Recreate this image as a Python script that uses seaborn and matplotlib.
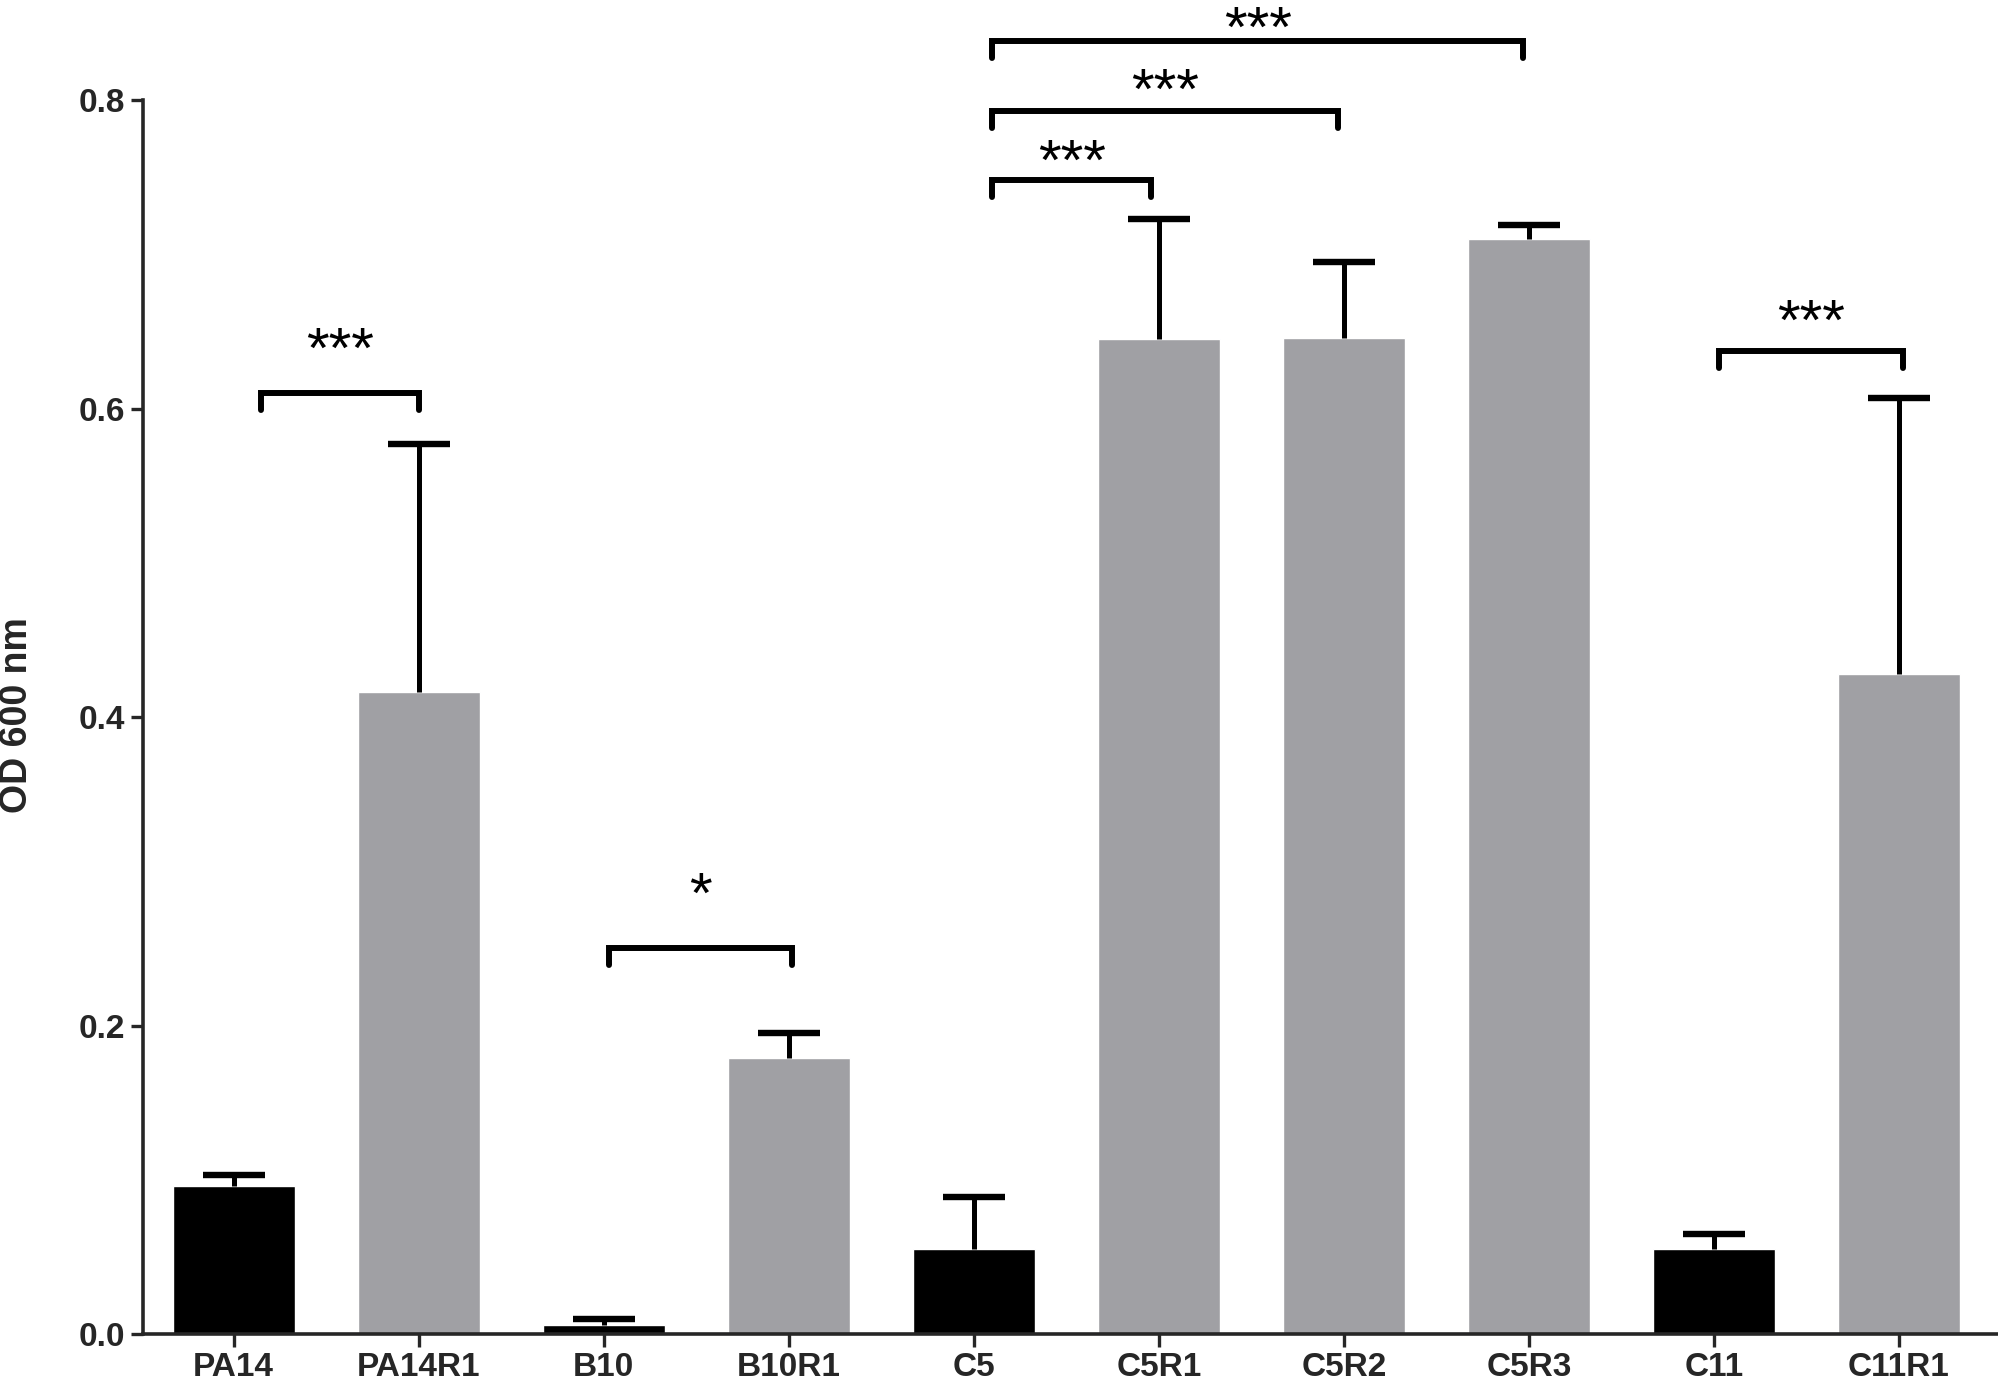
import matplotlib
matplotlib.use("Agg")
import matplotlib.pyplot as plt
import seaborn as sns
import pandas as pd
import numpy as np

# values
samples = ['PA14', 'PA14R1', 'B10', 'B10R1', 'C5', 'C5R1', 'C5R2', 'C5R3', 'C11', 'C11R1']
od_mean = [0.096, 0.416, 0.006, 0.179, 0.055, 0.645, 0.646, 0.710, 0.055, 0.428]
od_sd = [0.007, 0.161, 0.004, 0.016, 0.034, 0.078, 0.049, 0.009, 0.010, 0.179]
bar_colors = ['#000000', '#A0A0A4', '#000000', '#A0A0A4', '#000000',
              '#A0A0A4', '#A0A0A4', '#A0A0A4', '#000000', '#A0A0A4']

# significance brackets: (x left, x right, bracket height, stars)
sig_left = [0.15, 2.03, 4.10, 4.10, 4.10, 8.03]
sig_right = [1.00, 3.02, 4.96, 5.97, 6.97, 9.02]
sig_height = [0.610, 0.250, 0.748, 0.793, 0.838, 0.637]
sig_text_y = [0.644, 0.291, 0.766, 0.812, 0.852, 0.662]
sig_label = ['***', '*', '***', '***', '***', '***']

sns.set_style('ticks')
plt.rcParams['font.family'] = ['Liberation Sans', 'DejaVu Sans']

df = pd.DataFrame({'sample': samples, 'od': od_mean})

fig = plt.figure(figsize=(19.99, 13.84), dpi=100)
ax = fig.add_axes([0.0715, 0.0361, 0.9275, 0.8916])

sns.barplot(data=df, x='sample', y='od', hue='sample', palette=bar_colors,
            legend=False, width=0.66, errorbar=None, saturation=1, ax=ax)

# one-sided (upper) error bars
eb = ax.errorbar(range(len(samples)), od_mean, yerr=[[0] * len(samples), od_sd],
                 fmt='none', ecolor='black', elinewidth=3.6, capsize=22,
                 capthick=4.6, zorder=3)
for cap in eb[1]:
    if np.allclose(cap.get_ydata(), od_mean):
        cap.set_visible(False)

tick_len = 0.011
for xl, xr, h, ty, lab in zip(sig_left, sig_right, sig_height, sig_text_y, sig_label):
    ax.plot([xl, xl, xr, xr], [h - tick_len, h, h, h - tick_len], color='black',
            lw=4.3, solid_joinstyle='miter', clip_on=False, zorder=4)
    ax.text((xl + xr) / 2, ty - 0.008, lab, ha='center', va='center', fontsize=42,
            color='black', clip_on=False)

ax.set_xlim(-0.49, 9.53)
ax.set_ylim(0, 0.8)
ax.set_yticks([0.0, 0.2, 0.4, 0.6, 0.8])
ax.set_yticklabels(['0.0', '0.2', '0.4', '0.6', '0.8'])
ax.set_xlabel('')
ax.set_ylabel('')
fig.text(0.0085, 0.483, 'OD 600 nm', rotation=90, ha='center', va='center',
         fontsize=27, fontweight='bold')

sns.despine(ax=ax)
for side in ['left', 'bottom']:
    ax.spines[side].set_linewidth(2.6)
ax.tick_params(axis='both', length=9, width=2.4, labelsize=24, pad=4)
for lbl in ax.get_xticklabels() + ax.get_yticklabels():
    lbl.set_fontweight('bold')

fig.savefig('out.png', dpi=100)
